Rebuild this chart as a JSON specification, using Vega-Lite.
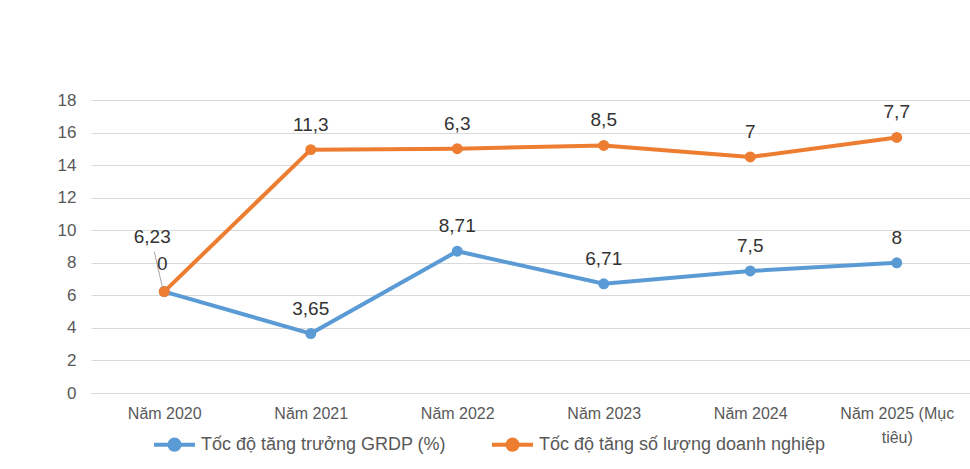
{
  "$schema": "https://vega.github.io/schema/vega-lite/v6.json",
  "width": 879,
  "height": 293,
  "autosize": "none",
  "padding": {"left": 91, "top": 100, "right": 0, "bottom": 76},
  "background": "white",
  "config": {
    "locale": {"number": {"decimal": ",", "thousands": ".", "grouping": [3], "currency": ["", ""]}},
    "view": {"stroke": null},
    "font": "Liberation Sans"
  },
  "data": {
    "values": [
      {"year": "Năm 2020", "series": "Tốc độ tăng trưởng GRDP (%)", "value": 6.23},
      {"year": "Năm 2021", "series": "Tốc độ tăng trưởng GRDP (%)", "value": 3.65},
      {"year": "Năm 2022", "series": "Tốc độ tăng trưởng GRDP (%)", "value": 8.71},
      {"year": "Năm 2023", "series": "Tốc độ tăng trưởng GRDP (%)", "value": 6.71},
      {"year": "Năm 2024", "series": "Tốc độ tăng trưởng GRDP (%)", "value": 7.5},
      {"year": "Năm 2025 (Mục tiêu)", "series": "Tốc độ tăng trưởng GRDP (%)", "value": 8},
      {"year": "Năm 2020", "series": "Tốc độ tăng số lượng doanh nghiệp", "value": 0},
      {"year": "Năm 2021", "series": "Tốc độ tăng số lượng doanh nghiệp", "value": 11.3},
      {"year": "Năm 2022", "series": "Tốc độ tăng số lượng doanh nghiệp", "value": 6.3},
      {"year": "Năm 2023", "series": "Tốc độ tăng số lượng doanh nghiệp", "value": 8.5},
      {"year": "Năm 2024", "series": "Tốc độ tăng số lượng doanh nghiệp", "value": 7},
      {"year": "Năm 2025 (Mục tiêu)", "series": "Tốc độ tăng số lượng doanh nghiệp", "value": 7.7}
    ]
  },
  "transform": [
    {"stack": "value", "groupby": ["year"], "sort": [{"field": "series", "order": "descending"}], "as": ["v0", "v1"]}
  ],
  "encoding": {
    "x": {
      "field": "year", "type": "nominal", "sort": null,
      "scale": {"padding": 0.5},
      "axis": {
        "title": null, "labelAngle": 0, "ticks": false, "domain": true, "domainColor": "#d9d9d9",
        "labelFontSize": 16, "labelColor": "#595959", "labelPadding": 12, "labelLineHeight": 24,
        "labelExpr": "datum.label == 'Năm 2025 (Mục tiêu)' ? ['Năm 2025 (Mục', 'tiêu)'] : datum.label"
      }
    },
    "y": {
      "field": "v1", "type": "quantitative",
      "scale": {"domain": [0, 18], "nice": false},
      "axis": {
        "title": null, "values": [0, 2, 4, 6, 8, 10, 12, 14, 16, 18], "domain": false, "ticks": false,
        "gridColor": "#d9d9d9", "gridWidth": 1, "labelFontSize": 17, "labelColor": "#595959", "labelPadding": 15
      }
    },
    "color": {
      "field": "series", "type": "nominal",
      "scale": {"domain": ["Tốc độ tăng trưởng GRDP (%)", "Tốc độ tăng số lượng doanh nghiệp"], "range": ["#5B9BD5", "#ED7D31"]},
      "legend": {
        "title": null, "orient": "none", "direction": "horizontal", "legendX": 61, "legendY": 322,
        "symbolType": "M-1,0H1M0.25,0A0.25,0.25,0,1,1,-0.25,0A0.25,0.25,0,1,1,0.25,0",
        "symbolSize": 1681, "symbolStrokeWidth": 4, "labelFontSize": 18, "labelColor": "#595959",
        "labelOffset": 4, "columnPadding": 38, "labelLimit": 400,
        "encode": {"symbols": {"update": {"fill": {"scale": "color", "field": "value"}, "stroke": {"scale": "color", "field": "value"}, "strokeWidth": {"value": 4}, "opacity": {"value": 1}}}}
      }
    }
  },
  "layer": [
    {"mark": {"type": "line", "strokeWidth": 4}},
    {"mark": {"type": "point", "filled": true, "size": 120, "opacity": 1}},
    {
      "transform": [{"filter": "datum.year == 'Năm 2020' && datum.series == 'Tốc độ tăng trưởng GRDP (%)'"}],
      "mark": {"type": "point", "shape": "M-0.25,-1L-0.05,-0.125", "size": 6400, "filled": false, "strokeWidth": 1, "opacity": 1},
      "encoding": {"color": {"value": "#a6a6a6"}}
    },
    {
      "transform": [{"filter": "!(datum.year == 'Năm 2020')"}],
      "mark": {"type": "text", "baseline": "middle", "dy": -25, "fontSize": 19},
      "encoding": {"text": {"field": "value", "type": "quantitative", "format": "~g"}, "color": {"value": "#333333"}}
    },
    {
      "transform": [{"filter": "datum.year == 'Năm 2020' && datum.series == 'Tốc độ tăng trưởng GRDP (%)'"}],
      "mark": {"type": "text", "baseline": "middle", "dy": -55, "dx": -12, "fontSize": 19},
      "encoding": {"text": {"field": "value", "type": "quantitative", "format": "~g"}, "color": {"value": "#333333"}}
    },
    {
      "transform": [{"filter": "datum.year == 'Năm 2020' && datum.series == 'Tốc độ tăng số lượng doanh nghiệp'"}],
      "mark": {"type": "text", "baseline": "middle", "dy": -28, "dx": -2, "fontSize": 19},
      "encoding": {"text": {"field": "value", "type": "quantitative", "format": "~g"}, "color": {"value": "#333333"}}
    }
  ]
}
